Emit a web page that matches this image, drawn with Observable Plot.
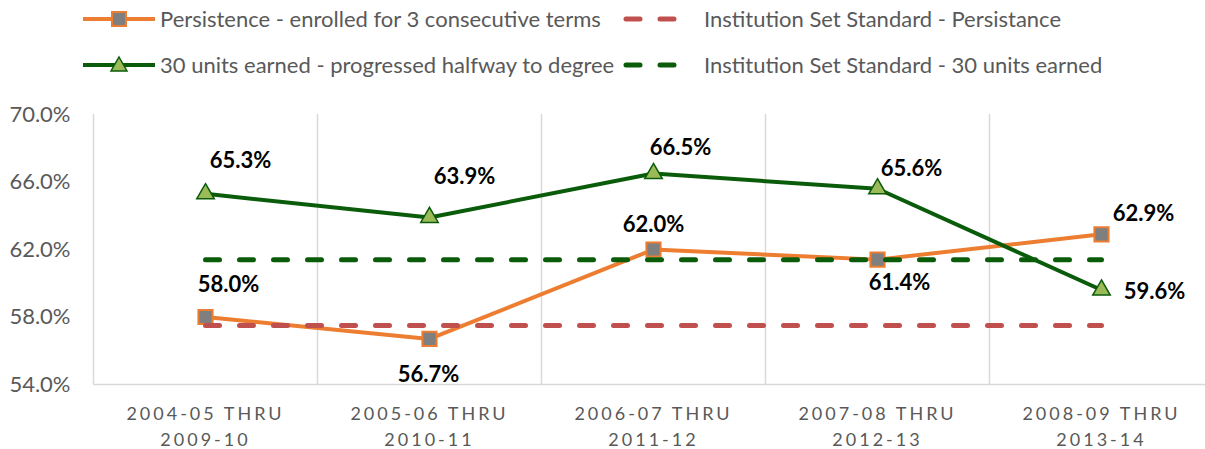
<!DOCTYPE html>
<html><head><meta charset="utf-8">
<script src="https://cdn.jsdelivr.net/npm/d3@7"></script>
<script src="https://cdn.jsdelivr.net/npm/@observablehq/plot@0.6"></script>
<style>
html,body{margin:0;padding:0;background:#fff;overflow:hidden;}
body{font-family:Lato,"Open Sans",sans-serif;}
#legend{position:relative;width:1205px;height:90px;}
.item{position:absolute;height:24px;display:flex;align-items:center;}
.item svg{display:block;}
.item span{position:absolute;white-space:nowrap;font-size:22px;color:#595959;line-height:24px;}
#chart g[aria-label="x-axis tick label"] text{letter-spacing:3px;}
</style></head>
<body>
<div id="legend"></div>
<div id="chart"></div>
<script>
const categories = ["2004-05 THRU\n2009-10","2005-06 THRU\n2010-11","2006-07 THRU\n2011-12","2007-08 THRU\n2012-13","2008-09 THRU\n2013-14"];
const persistence = [58.0, 56.7, 62.0, 61.4, 62.9];
const units30 = [65.3, 63.9, 66.5, 65.6, 59.6];
const stdPersistence = [57.5, 57.5, 57.5, 57.5, 57.5];
const stdUnits = [61.4, 61.4, 61.4, 61.4, 61.4];
const yTicks = [54, 58, 62, 66, 70];
const seriesNames = ["Persistence - enrolled for 3 consecutive terms","Institution Set Standard - Persistance","30 units earned - progressed halfway to degree","Institution Set Standard - 30 units earned"];

const ORANGE = "#ED7D31", GREEN = "#0A5C0A", RED = "#C0504D", TRI = "#9BBB59", GRAY = "#7F7F7F";

// legend
const legend = document.getElementById("legend");
function addItem(left, top, swW, textLeft, name, draw){
  const it = document.createElement("div");
  it.className = "item"; it.style.left = left+"px"; it.style.top = top+"px";
  const s = d3.create("svg").attr("width", swW).attr("height", 24);
  draw(s, swW);
  it.appendChild(s.node());
  const sp = document.createElement("span"); sp.textContent = name; sp.style.left = (textLeft-left)+"px";
  it.appendChild(sp);
  legend.appendChild(it);
}
addItem(83, 7, 72, 160, seriesNames[0], (s,w)=>{
  s.append("line").attr("x1",0).attr("x2",w).attr("y1",12).attr("y2",12).attr("stroke",ORANGE).attr("stroke-width",4);
  s.append("rect").attr("x",w/2-7).attr("y",5).attr("width",14).attr("height",14).attr("fill",GRAY).attr("stroke",ORANGE).attr("stroke-width",2);
});
addItem(623, 7, 60, 704, seriesNames[1], (s,w)=>{
  s.append("line").attr("x1",3).attr("x2",w-3).attr("y1",12).attr("y2",12).attr("stroke",RED).attr("stroke-width",5).attr("stroke-dasharray","14,20").attr("stroke-linecap","round");
});
addItem(83, 53, 72, 160, seriesNames[2], (s,w)=>{
  s.append("line").attr("x1",0).attr("x2",w).attr("y1",12).attr("y2",12).attr("stroke",GREEN).attr("stroke-width",4);
  s.append("path").attr("d",`M${w/2},4L${w/2+8},18L${w/2-8},18Z`).attr("fill",TRI).attr("stroke",GREEN).attr("stroke-width",1.5);
});
addItem(623, 53, 60, 704, seriesNames[3], (s,w)=>{
  s.append("line").attr("x1",3).attr("x2",w-3).attr("y1",12).attr("y2",12).attr("stroke",GREEN).attr("stroke-width",5).attr("stroke-dasharray","14,20").attr("stroke-linecap","round");
});

const idx = d3.range(categories.length);
const fmt = v => v.toFixed(1) + "%";
const persOffsets = [[23,-32],[-1,36],[0,-25],[22,23],[42,-20]];
const unitOffsets = [[35,-33],[35,-40],[27,-26],[34,-20],[53,2]];
const dashOpts = {strokeWidth:5, strokeDasharray:"14,20", strokeLinecap:"round"};
const labelOpts = {fontSize:22, fontWeight:"bold", fill:"#000"};

const chart = Plot.plot({
  width: 1205, height: 359,
  marginTop: 24, marginBottom: 65, marginLeft: 93, marginRight: 0,
  style: {fontFamily: "Lato, 'Open Sans', sans-serif", background: "#fff", color: "#595959"},
  x: {type: "linear", domain: [-0.5, categories.length - 0.5], range: [93, 1213]},
  y: {domain: [54, 70]},
  marks: [
    Plot.ruleX(idx.map(i => i - 0.5), {x: d => d, y1: 54, y2: 70, stroke: "#d9d9d9", strokeWidth: 1.5}),
    Plot.ruleY([54], {stroke: "#d9d9d9", strokeWidth: 1.5}),
    Plot.axisY({ticks: yTicks, tickFormat: d => d.toFixed(1) + "%", tickSize: 0, tickPadding: 23, fontSize: 22, fill: "#595959", label: null}),
    Plot.axisX({ticks: idx, tickFormat: i => categories[i], tickSize: 0, tickPadding: 17, fontSize: 18, lineHeight: 1.45, fill: "#595959", label: null}),
    Plot.line(persistence, {x: (d, i) => i, y: d => d, stroke: ORANGE, strokeWidth: 4}),
    Plot.line(units30, {x: (d, i) => i, y: d => d, stroke: GREEN, strokeWidth: 4}),
    Plot.dot(persistence, {x: (d, i) => i, y: d => d, symbol: "square", r: 8, fill: GRAY, stroke: ORANGE, strokeWidth: 2}),
    Plot.dot(units30, {x: (d, i) => i, y: d => d, symbol: "triangle", r: 6.5, fill: TRI, stroke: GREEN, strokeWidth: 1.5}),
    Plot.line(stdPersistence, {x: (d, i) => i, y: d => d, stroke: RED, ...dashOpts}),
    Plot.line(stdUnits, {x: (d, i) => i, y: d => d, stroke: GREEN, ...dashOpts}),
    ...idx.map(i => Plot.text([persistence[i]], {x: () => i, y: d => d, text: fmt, dx: persOffsets[i][0], dy: persOffsets[i][1], ...labelOpts})),
    ...idx.map(i => Plot.text([units30[i]], {x: () => i, y: d => d, text: fmt, dx: unitOffsets[i][0], dy: unitOffsets[i][1], ...labelOpts}))
  ]
});
document.getElementById("chart").appendChild(chart);
</script>
</body></html>
